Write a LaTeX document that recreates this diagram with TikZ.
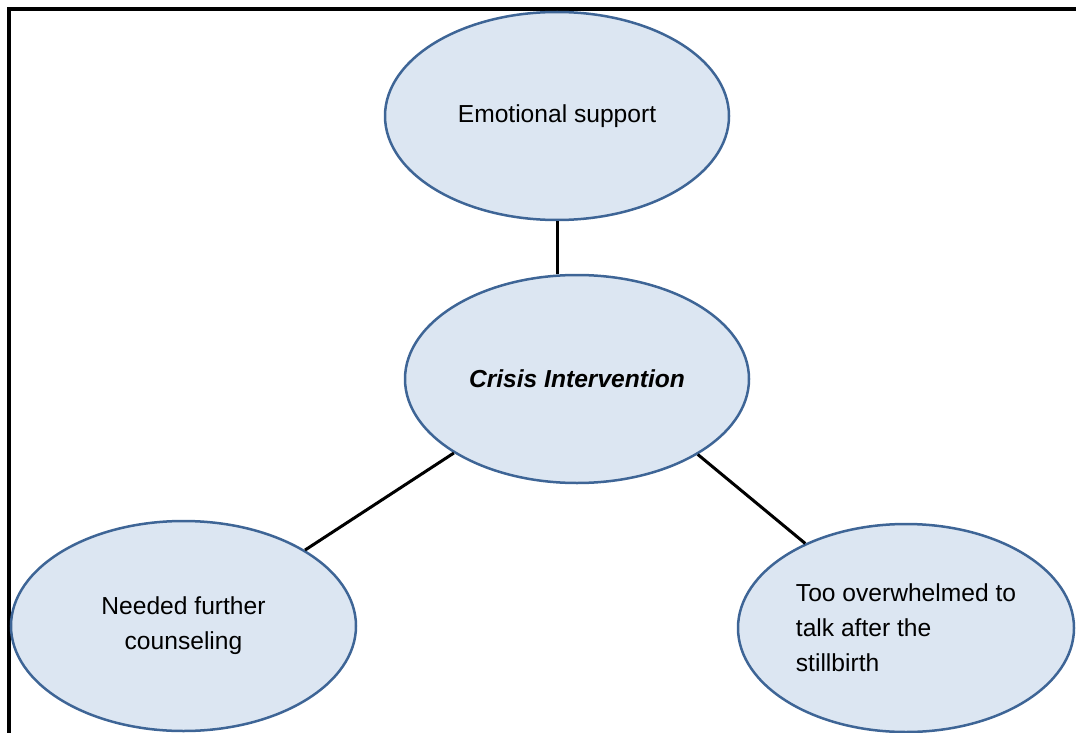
\documentclass[tikz,border=0pt]{standalone}
\usepackage{fontspec}
\setmainfont{Liberation Sans}
\usetikzlibrary{shapes.geometric}

\begin{document}
\begin{tikzpicture}[x=0.5pt,y=-0.5pt]

\definecolor{fillcolor}{HTML}{DCE6F2}
\definecolor{bordercolor}{HTML}{3E6596}

\tikzstyle{bubble}=[ellipse, draw=bordercolor, fill=fillcolor, line width=1.25pt, minimum width=172pt, minimum height=104pt, inner sep=0pt, font=\fontsize{12.3}{17.5}\selectfont]
\tikzstyle{link}=[line width=1.5pt, color=black]
\tikzstyle{frame}=[line width=2pt, color=black]

\useasboundingbox (0,0) rectangle (1076,733);
\clip (0,0) rectangle (1076,733);

% outer frame
\draw[frame] (9,760) -- (9,9) -- (1100,9);

\node[bubble] (emo) at (557,116) {Emotional support};
\node[bubble] (crisis) at (577,379) {\textbf{\textit{Crisis Intervention}}};
\node[bubble, minimum width=172.5pt, minimum height=105pt, align=center] (needed) at (183.5,626) {Needed further\\counseling};
\node[bubble, minimum width=168pt, align=left] (stillb) at (906,628) {Too overwhelmed to\\talk after the\\stillbirth};

\draw[link] (emo.south) -- (emo.south |- crisis.north);
\draw[link] (crisis.211) -- (needed.32);
\draw[link] (crisis.-32) -- (stillb.140);

\end{tikzpicture}
\end{document}
